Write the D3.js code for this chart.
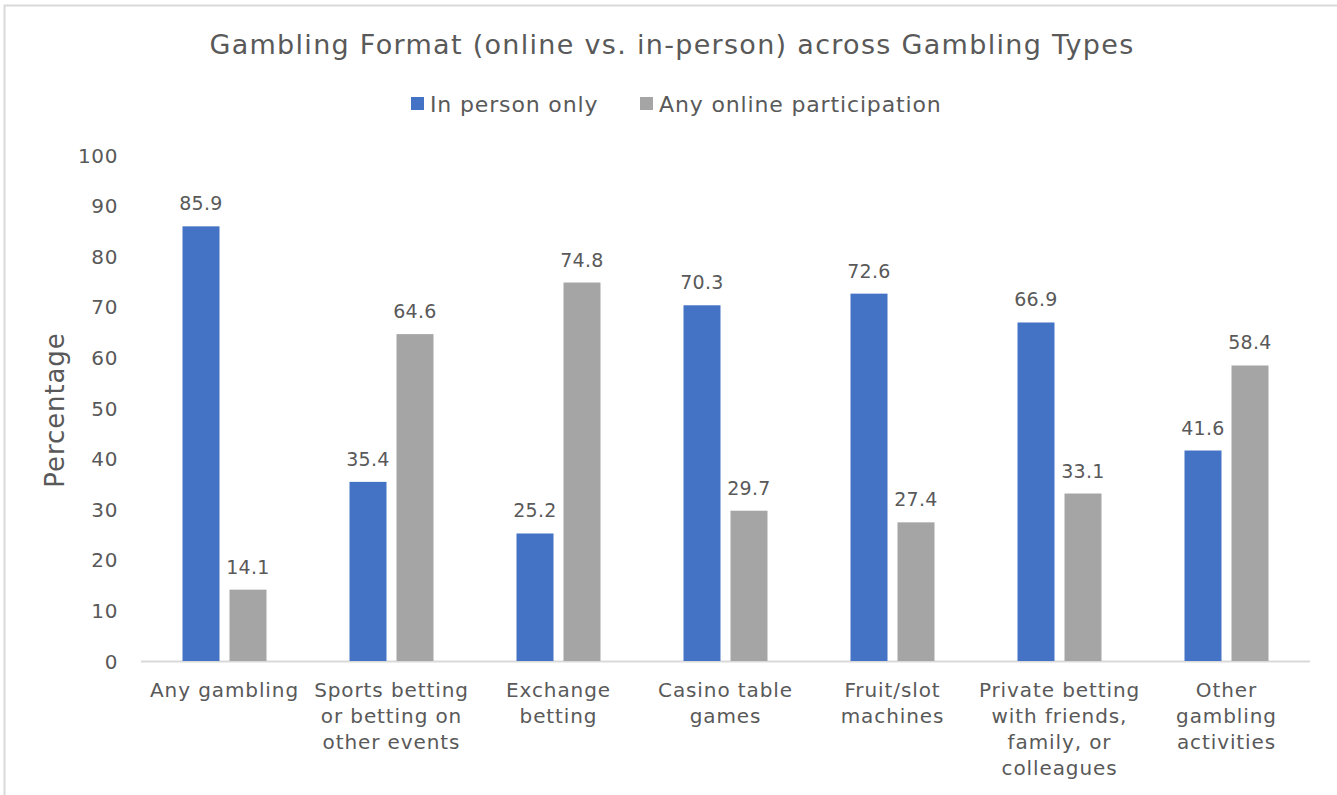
<!DOCTYPE html>
<html><head><meta charset="utf-8">
<script src="https://cdn.jsdelivr.net/npm/d3@7"></script>
<style>body{margin:0;background:#fff;overflow:hidden;} svg{display:block;} text{font-family:"DejaVu Sans",sans-serif;fill:#595959;}</style>
</head><body><svg id="c" width="1337" height="795"></svg>
<script>
const categories = [
  ["Any gambling"],
  ["Sports betting","or betting on","other events"],
  ["Exchange","betting"],
  ["Casino table","games"],
  ["Fruit/slot","machines"],
  ["Private betting","with friends,","family, or","colleagues"],
  ["Other","gambling","activities"]
];
const seriesNames = ["In person only","Any online participation"];
const inPerson = [85.9,35.4,25.2,70.3,72.6,66.9,41.6];
const online = [14.1,64.6,74.8,29.7,27.4,33.1,58.4];
const yTicks = [0,10,20,30,40,50,60,70,80,90,100];
const colors = ["#4472C4","#A5A5A5"];

const svg = d3.select("#c");
svg.append("rect").attr("x",4.5).attr("y",5.5).attr("width",1400).attr("height",900)
  .attr("fill","none").attr("stroke","#D9D9D9").attr("stroke-width",2);

const m = {l:141, r:1310, t:155, b:661};
const x = d3.scaleBand().domain(d3.range(categories.length)).range([m.l,m.r]);
const y = d3.scaleLinear().domain([0,100]).range([m.b,m.t]);
const series = [inPerson, online];
const barW = 37, gap = 10;

// axis line
svg.append("line").attr("x1",m.l).attr("x2",m.r).attr("y1",y(0)+0.5).attr("y2",y(0)+0.5)
  .attr("stroke","#D9D9D9").attr("stroke-width",2);

// y tick labels
const yAxis = d3.axisLeft(y).tickValues(yTicks).tickSize(0).tickPadding(0);
const gy = svg.append("g").attr("transform",`translate(118,0)`).call(yAxis);
gy.select(".domain").remove();
gy.selectAll("text").style("font-family","DejaVu Sans").attr("font-size",20).attr("fill","#595959")
  .attr("dy","0.35em").style("letter-spacing","0.6px");

// bars
series.forEach((vals,si)=>{
  const g = svg.append("g");
  g.selectAll("rect").data(vals).join("rect")
    .attr("x",(d,i)=>x(i)+x.bandwidth()/2 + (si===0 ? -(barW+gap/2) : gap/2))
    .attr("width",barW)
    .attr("y",d=>y(d)).attr("height",d=>y(0)-y(d))
    .attr("fill",colors[si]);
  g.selectAll("text").data(vals).join("text")
    .attr("x",(d,i)=>x(i)+x.bandwidth()/2 + (si===0 ? -(barW/2+gap/2) : gap/2+barW/2))
    .attr("y",d=>y(d)-16)
    .attr("text-anchor","middle").attr("font-size",19).style("letter-spacing","0.3px")
    .text(d=>d.toFixed(1));
});

// category labels
categories.forEach((lines,i)=>{
  const t = svg.append("text").attr("text-anchor","middle").attr("font-size",20)
    .style("letter-spacing","0.9px")
    .attr("x",x(i)+x.bandwidth()/2).attr("y",697);
  lines.forEach((ln,j)=>t.append("tspan").attr("x",x(i)+x.bandwidth()/2).attr("y",697+26*j).text(ln));
});

// title
svg.append("text").attr("x",672).attr("y",54).attr("text-anchor","middle").attr("font-size",27)
  .style("letter-spacing","1.3px")
  .text("Gambling Format (online vs. in-person) across Gambling Types");

// y axis title
svg.append("text").attr("transform","translate(64,410) rotate(-90)").attr("text-anchor","middle")
  .attr("font-size",26).style("letter-spacing","0.9px").text("Percentage");

// legend
const legX = [411, 640];
seriesNames.forEach((n,i)=>{
  svg.append("rect").attr("x",legX[i]).attr("y",97).attr("width",13).attr("height",13).attr("fill",colors[i]);
  svg.append("text").attr("x",legX[i]+19).attr("y",112).attr("font-size",22)
    .style("letter-spacing","0.85px").text(n);
});
</script></body></html>
